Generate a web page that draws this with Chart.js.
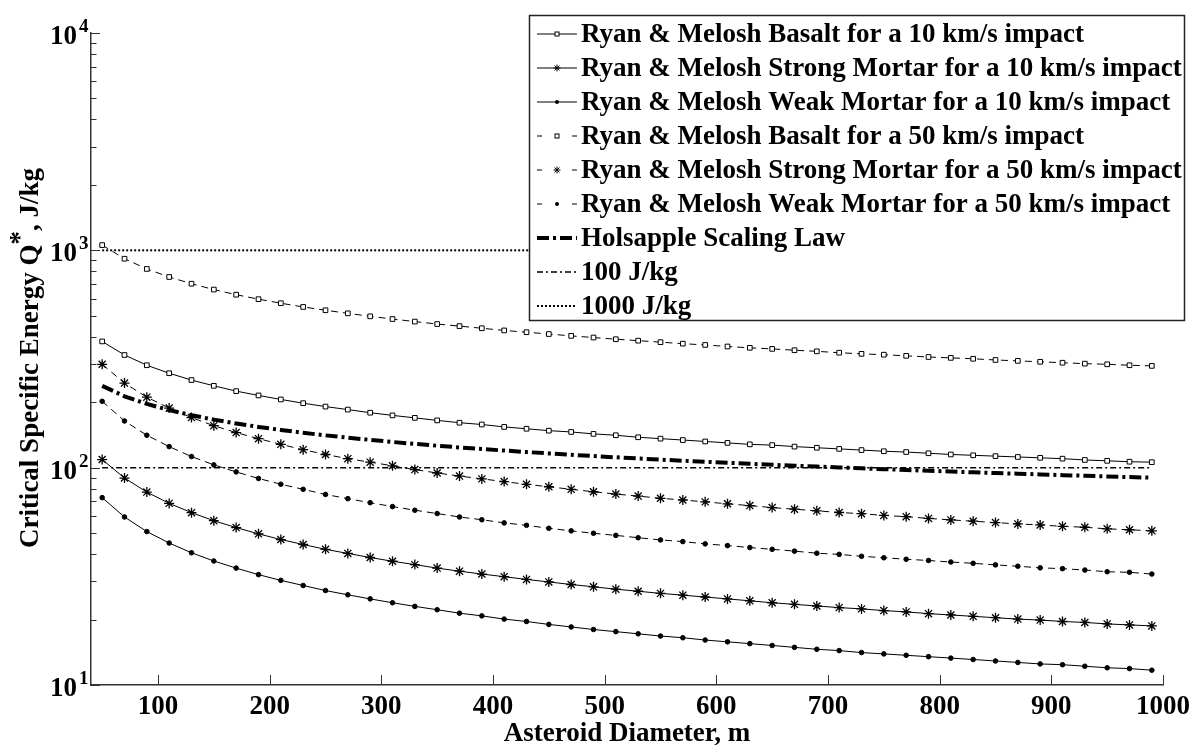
<!DOCTYPE html>
<html>
<head>
<meta charset="utf-8">
<script src="https://cdn.jsdelivr.net/npm/chart.js@4/dist/chart.umd.min.js"></script>
<style>
  html, body { margin: 0; padding: 0; background: #fff; }
  #c { display: block; }
</style>
</head>
<body>
<canvas id="c" width="1192" height="745"></canvas>
<script>
// Asteroid diameter, m
const diameters = [50, 70, 90, 110, 130, 150, 170, 190, 210, 230, 250, 270, 290, 310, 330, 350,
  370, 390, 410, 430, 450, 470, 490, 510, 530, 550, 570, 590, 610, 630, 650, 670,
  690, 710, 730, 750, 770, 790, 810, 830, 850, 870, 890, 910, 930, 950, 970, 990];

// Critical specific energy Q*, J/kg
const basalt10 = [381, 330, 296, 272, 253, 238, 225, 215, 206, 198, 191, 185, 179, 174, 169.5, 165,
  161, 158, 154, 151, 148, 146, 143, 141, 138, 136, 134, 132, 130, 128, 127, 125,
  123.5, 122, 120.5, 119, 118, 116.5, 115, 114, 113, 112, 111, 110, 108.5, 107.5, 106.5, 106];
const strongMortar10 = [109, 89.6, 77.2, 68.5, 62.1, 57.0, 53.0, 49.6, 46.7, 44.3, 42.1, 40.3, 38.6, 37.1, 35.8, 34.5,
  33.4, 32.4, 31.5, 30.6, 29.8, 29.0, 28.3, 27.6, 27.0, 26.4, 25.9, 25.4, 24.9, 24.4, 23.9, 23.5,
  23.1, 22.7, 22.4, 22.0, 21.7, 21.3, 21.0, 20.7, 20.4, 20.1, 19.9, 19.6, 19.4, 19.1, 18.9, 18.7];
const weakMortar10 = [72.8, 59.3, 50.8, 45.0, 40.6, 37.2, 34.5, 32.2, 30.3, 28.7, 27.2, 26.0, 24.9, 23.9, 23.0, 22.2,
  21.4, 20.8, 20.1, 19.6, 19.0, 18.5, 18.0, 17.6, 17.2, 16.8, 16.5, 16.1, 15.8, 15.5, 15.2, 14.9,
  14.6, 14.4, 14.1, 13.9, 13.7, 13.5, 13.3, 13.1, 12.9, 12.7, 12.5, 12.4, 12.2, 12.0, 11.9, 11.7];
const basalt50 = [1057, 915, 821, 754, 702, 660, 625, 596, 571, 549, 530, 513, 497, 483, 470, 458,
  448, 438, 428, 420, 412, 404, 397, 390, 384, 378, 372, 367, 361, 356, 352, 347,
  343, 338, 334, 331, 327, 323, 320, 317, 313, 310, 307, 304, 301, 299, 296, 294];
const strongMortar50 = [299, 245, 211, 188, 170, 156, 145, 136, 128, 121, 115, 110, 106, 102, 98, 94.5,
  91.5, 88.8, 86.3, 83.8, 81.7, 79.5, 77.5, 75.6, 74.0, 72.3, 71.0, 69.6, 68.2, 66.9, 65.5, 64.4,
  63.3, 62.2, 61.4, 60.3, 59.5, 58.4, 57.5, 56.7, 55.9, 55.1, 54.5, 53.7, 53.2, 52.3, 51.8, 51.2];
const weakMortar50 = [202, 164, 141, 125, 112.5, 103, 95.6, 89.2, 83.9, 79.5, 75.3, 72.0, 69.0, 66.2, 63.7, 61.5,
  59.3, 57.6, 55.7, 54.3, 52.6, 51.2, 49.9, 48.8, 47.6, 46.5, 45.7, 44.6, 43.8, 42.9, 42.1, 41.3,
  40.4, 39.9, 39.1, 38.5, 37.9, 37.4, 36.8, 36.3, 35.7, 35.2, 34.6, 34.3, 33.8, 33.2, 33.0, 32.4];
const holsapple = [238, 213, 196.5, 184, 174.3, 166.4, 159.7, 154.0, 149.1, 144.7, 140.8, 137.4, 134.2, 131.3, 128.6, 126.2,
  123.9, 121.8, 119.9, 118.0, 116.3, 114.6, 113.1, 111.6, 110.2, 108.9, 107.6, 106.5, 105.3, 104.2, 103.1, 102.1,
  101.2, 100.2, 99.3, 98.4, 97.6, 96.8, 96.0, 95.2, 94.5, 93.8, 93.1, 92.4, 91.8, 91.1, 90.5, 89.9];

// Reference levels
const refDiameters = [50, 990];
const ref100 = [100, 100];
const ref1000 = [1000, 1000];

// Axis ticks and labels
const xTicks = [100, 200, 300, 400, 500, 600, 700, 800, 900, 1000];
const yDecades = [1, 2, 3, 4];

const seriesLabels = [
  'Ryan & Melosh Basalt for a 10 km/s impact',
  'Ryan & Melosh Strong Mortar for a 10 km/s impact',
  'Ryan & Melosh Weak Mortar for a 10 km/s impact',
  'Ryan & Melosh Basalt for a 50 km/s impact',
  'Ryan & Melosh Strong Mortar for a 50 km/s impact',
  'Ryan & Melosh Weak Mortar for a 50 km/s impact',
  'Holsapple Scaling Law',
  '100 J/kg',
  '1000 J/kg'
];
const xTitle = 'Asteroid Diameter, m';
const yTitleMain = 'Critical Specific Energy Q';
const yTitleSup = '*';
const yTitleTail = ', J/kg';

const FONT = '"Liberation Serif", "Times New Roman", serif';
const toXY = (xs, ys) => xs.map((x, i) => ({ x: x, y: ys[i] }));

const DASH = [7, 5];
function series(label, ys, style, dashed) {
  const base = {
    label: label,
    data: toXY(diameters, ys),
    borderColor: '#000',
    borderWidth: 1,
    borderDash: dashed ? DASH : [],
    pointBorderColor: '#000',
    pointBorderWidth: 1,
    tension: 0,
    fill: false
  };
  if (style === 'rect') {
    Object.assign(base, { pointStyle: 'rect', pointRadius: 3.3, pointBackgroundColor: '#fff' });
  } else if (style === 'star') {
    Object.assign(base, { pointStyle: 'star', pointRadius: 5, pointBorderWidth: 1.3, pointBackgroundColor: '#000' });
  } else {
    Object.assign(base, { pointStyle: 'circle', pointRadius: 2.3, pointBackgroundColor: '#000' });
  }
  base.legendMarker = style;
  base.legendDashed = dashed;
  return base;
}

const datasets = [
  series(seriesLabels[0], basalt10, 'rect', false),
  series(seriesLabels[1], strongMortar10, 'star', false),
  series(seriesLabels[2], weakMortar10, 'circle', false),
  series(seriesLabels[3], basalt50, 'rect', true),
  series(seriesLabels[4], strongMortar50, 'star', true),
  series(seriesLabels[5], weakMortar50, 'circle', true),
  {
    label: seriesLabels[6],
    data: toXY(diameters, holsapple),
    borderColor: '#000',
    borderWidth: 4,
    borderDash: [12, 4, 3, 4],
    borderCapStyle: 'butt',
    pointRadius: 0,
    tension: 0,
    fill: false
  },
  {
    label: seriesLabels[7],
    data: toXY(refDiameters, ref100),
    borderColor: '#000',
    borderWidth: 1.5,
    borderDash: [6, 3, 2, 3],
    pointRadius: 0,
    fill: false
  },
  {
    label: seriesLabels[8],
    data: toXY(refDiameters, ref1000),
    borderColor: '#000',
    borderWidth: 2,
    borderDash: [2, 2],
    pointRadius: 0,
    fill: false
  }
];

function drawMarker(ctx, style, x, y, r) {
  ctx.save();
  ctx.strokeStyle = '#000';
  ctx.lineWidth = 1;
  ctx.setLineDash([]);
  if (style === 'rect') {
    ctx.fillStyle = '#fff';
    ctx.fillRect(x - r, y - r, 2 * r, 2 * r);
    ctx.strokeRect(x - r, y - r, 2 * r, 2 * r);
  } else if (style === 'star') {
    ctx.beginPath();
    for (let k = 0; k < 4; k++) {
      const a = k * Math.PI / 4;
      ctx.moveTo(x - r * Math.cos(a), y - r * Math.sin(a));
      ctx.lineTo(x + r * Math.cos(a), y + r * Math.sin(a));
    }
    ctx.stroke();
  } else if (style === 'circle') {
    ctx.fillStyle = '#000';
    ctx.beginPath();
    ctx.arc(x, y, r, 0, Math.PI * 2);
    ctx.fill();
  }
  ctx.restore();
}

const decorations = {
  id: 'decorations',
  afterDraw(chart) {
    const ctx = chart.ctx;
    const a = chart.chartArea;
    const xs = chart.scales.x;
    const ys = chart.scales.y;
    ctx.save();
    ctx.strokeStyle = '#333';
    ctx.lineWidth = 1;
    ctx.setLineDash([]);

    // x ticks, pointing into the plot
    ctx.beginPath();
    xTicks.forEach(v => {
      const px = Math.round(xs.getPixelForValue(v)) + 0.5;
      ctx.moveTo(px, a.bottom);
      ctx.lineTo(px, a.bottom - 10);
    });
    // y major and minor ticks
    yDecades.forEach(e => {
      const py = Math.round(ys.getPixelForValue(Math.pow(10, e))) + 0.5;
      ctx.moveTo(a.left, py);
      ctx.lineTo(a.left + 9, py);
      if (e < 4) {
        for (let m = 2; m <= 9; m++) {
          const pm = Math.round(ys.getPixelForValue(m * Math.pow(10, e))) + 0.5;
          ctx.moveTo(a.left, pm);
          ctx.lineTo(a.left + 5.5, pm);
        }
      }
    });
    ctx.stroke();

    // tick labels
    ctx.fillStyle = '#000';
    ctx.font = 'bold 27px ' + FONT;
    ctx.textAlign = 'center';
    ctx.textBaseline = 'alphabetic';
    xTicks.forEach(v => {
      ctx.fillText(String(v), xs.getPixelForValue(v), 714);
    });
    yDecades.forEach(e => {
      const py = ys.getPixelForValue(Math.pow(10, e));
      ctx.font = 'bold 27px ' + FONT;
      ctx.textAlign = 'right';
      ctx.fillText('10', 77, py + 11);
      ctx.font = 'bold 19px ' + FONT;
      ctx.textAlign = 'left';
      ctx.fillText(String(e), 79, py - 1);
    });

    // axis titles
    ctx.font = 'bold 27px ' + FONT;
    ctx.textAlign = 'center';
    ctx.fillText(xTitle, (a.left + a.right) / 2, 741);

    ctx.save();
    ctx.translate(38, 358);
    ctx.rotate(-Math.PI / 2);
    ctx.textAlign = 'left';
    const w1 = ctx.measureText(yTitleMain).width;
    const w2 = ctx.measureText(yTitleSup).width;
    const w3 = ctx.measureText(yTitleTail).width;
    let cx = -(w1 + w2 + w3) / 2;
    ctx.fillText(yTitleMain, cx, 0);
    cx += w1;
    ctx.fillText(yTitleSup, cx, -10);
    cx += w2;
    ctx.fillText(yTitleTail, cx, 0);
    ctx.restore();

    // legend box
    const box = { l: 529.5, t: 15.5, r: 1184.5, b: 320.5 };
    ctx.fillStyle = '#fff';
    ctx.fillRect(box.l, box.t, box.r - box.l, box.b - box.t);
    ctx.strokeStyle = '#222';
    ctx.lineWidth = 1.5;
    ctx.strokeRect(box.l, box.t, box.r - box.l, box.b - box.t);

    chart.data.datasets.forEach((ds, i) => {
      const yRow = 34 + 34 * i;
      const x0 = 537, x1 = 577, xm = 557;
      ctx.save();
      ctx.strokeStyle = '#000';
      ctx.lineWidth = Math.min(ds.borderWidth, 4);
      ctx.lineCap = 'butt';
      if (ds.legendMarker && ds.legendDashed) {
        ctx.setLineDash([]);
        ctx.lineWidth = 1;
        ctx.beginPath();
        ctx.moveTo(x0, yRow); ctx.lineTo(x0 + 5, yRow);
        ctx.moveTo(x1 - 5, yRow); ctx.lineTo(x1, yRow);
        ctx.stroke();
      } else {
        ctx.setLineDash(ds.borderDash || []);
        ctx.beginPath();
        ctx.moveTo(x0, yRow);
        ctx.lineTo(x1, yRow);
        ctx.stroke();
      }
      ctx.restore();
      if (ds.legendMarker) {
        const r = ds.legendMarker === 'star' ? 3.5 : 2;
        drawMarker(ctx, ds.legendMarker, xm, yRow, r);
      }
      ctx.fillStyle = '#000';
      ctx.font = 'bold 27px ' + FONT;
      ctx.textAlign = 'left';
      ctx.textBaseline = 'middle';
      ctx.fillText(ds.label, 581, yRow + 1);
    });
    ctx.restore();
  }
};

new Chart(document.getElementById('c'), {
  type: 'line',
  data: { datasets: datasets },
  options: {
    responsive: false,
    animation: false,
    devicePixelRatio: 1,
    layout: { padding: { left: 91, right: 29, top: 33, bottom: 60 } },
    plugins: { legend: { display: false }, tooltip: { enabled: false } },
    scales: {
      x: {
        type: 'linear',
        min: 40,
        max: 1000,
        grid: { display: false, drawTicks: false, tickLength: 0 },
        border: { display: true, color: '#333', width: 1.5 },
        ticks: { display: false, padding: 0 }
      },
      y: {
        type: 'logarithmic',
        min: 10,
        max: 10000,
        grid: { display: false, drawTicks: false, tickLength: 0 },
        border: { display: true, color: '#333', width: 1.5 },
        ticks: { display: false, padding: 0 }
      }
    }
  },
  plugins: [decorations]
});
</script>
</body>
</html>
